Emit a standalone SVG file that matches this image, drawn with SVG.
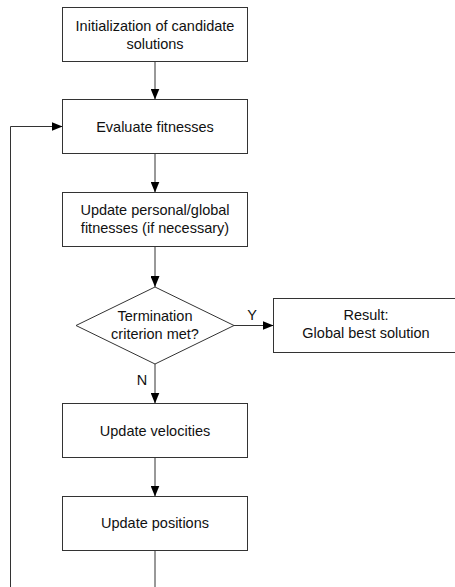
<svg xmlns="http://www.w3.org/2000/svg" width="455" height="587" viewBox="0 0 455 587">
<defs>
<style>
.box{fill:#fff;stroke:#333;stroke-width:1}
.ln{fill:none;stroke:#333;stroke-width:1}
text{font-family:"Liberation Sans",Arial,sans-serif;font-size:14.5px;fill:#111;text-anchor:middle}
</style>
<marker id="ah" markerUnits="userSpaceOnUse" markerWidth="11" markerHeight="9" refX="11" refY="4.5" orient="auto">
<path d="M0,0 L11,4.5 L0,9 z" fill="#000"/>
</marker>
</defs>
<rect width="455" height="587" fill="#fff"/>
<g id="connectors">
<path class="ln" d="M155,61.5 V99.5" marker-end="url(#ah)"/>
<path class="ln" d="M155,153.5 V192.5" marker-end="url(#ah)"/>
<path class="ln" d="M155,246.5 V287" marker-end="url(#ah)"/>
<path class="ln" d="M234,325.5 H273.5" marker-end="url(#ah)"/>
<path class="ln" d="M155,364 V403.5" marker-end="url(#ah)"/>
<path class="ln" d="M155,457.5 V496.5" marker-end="url(#ah)"/>
<path class="ln" d="M155,550.5 V600 H10.5 V126.5 H62.5" marker-end="url(#ah)"/>
<text x="252" y="320">Y</text>
<text x="142" y="385">N</text>
</g>
<g id="init">
<rect class="box" x="62.5" y="7.5" width="185" height="54"/>
<text x="155" y="31">Initialization of candidate</text>
<text x="155" y="49">solutions</text>
</g>
<g id="evaluate">
<rect class="box" x="62.5" y="99.5" width="185" height="54"/>
<text x="155" y="132">Evaluate fitnesses</text>
</g>
<g id="update-best">
<rect class="box" x="62.5" y="192.5" width="185" height="54"/>
<text x="155" y="215">Update personal/global</text>
<text x="155" y="233">fitnesses (if necessary)</text>
</g>
<g id="termination">
<polygon class="box" points="155,287 234,325.5 155,364 76,325.5"/>
<text x="155" y="321">Termination</text>
<text x="155" y="339">criterion met?</text>
</g>
<g id="result">
<rect class="box" x="273.5" y="298.5" width="190" height="54"/>
<text x="366" y="320">Result:</text>
<text x="366" y="338">Global best solution</text>
</g>
<g id="velocities">
<rect class="box" x="62.5" y="403.5" width="185" height="54"/>
<text x="155" y="436">Update velocities</text>
</g>
<g id="positions">
<rect class="box" x="62.5" y="496.5" width="185" height="54"/>
<text x="155" y="528">Update positions</text>
</g>
</svg>
